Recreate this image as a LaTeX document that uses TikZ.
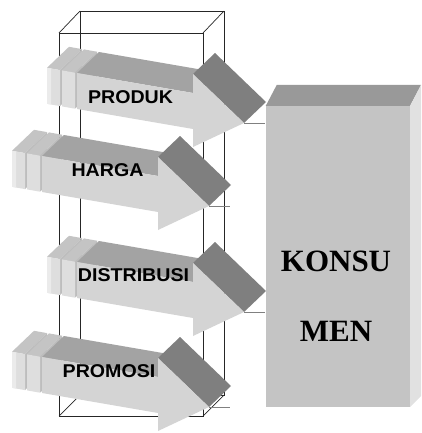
\documentclass[tikz,border=0pt]{standalone}
\usepackage{fontspec}
\usepackage{graphicx}
\newfontfamily\labelfont{Liberation Sans}
\newfontfamily\boxfont{Liberation Serif}
\definecolor{afront}{HTML}{D4D4D4}
\definecolor{atop}{HTML}{A3A3A3}
\definecolor{ahead}{HTML}{7F7F7F}
\definecolor{sfront}{HTML}{DEDEDE}
\definecolor{stop}{HTML}{C4C4C4}
\definecolor{sside}{HTML}{BDBDBD}
\definecolor{kfrontc}{HTML}{C4C4C4}
\definecolor{ktopc}{HTML}{999999}
\definecolor{ksidec}{HTML}{E1E1E1}
\newcommand\widetext[1]{\scalebox{1.06}[1]{#1}}
\newcommand\mkarrow[2]{%
 \begin{scope}[shift={(#1,#2)}]
  % tail slab A
  \fill[stop] (-146,-6.2) -- ++(22,-21) -- (-111,-24.9) -- (-133,-3.9) -- cycle;
  \fill[sside] (-133,-3.9) -- ++(22,-21) -- ++(0,36) -- (-133,32.1) -- cycle;
  \fill[sfront] (-146,-6.2) -- (-133,-3.9) -- (-133,32.1) -- (-146,29.8) -- cycle;
  \fill[white!92!black] (-146,-6.2) -- (-142,-5.5) -- (-142,30.5) -- (-146,29.8) -- cycle;
  % tail slab B
  \fill[stop] (-131,-3.6) -- ++(22,-21) -- (-96,-22.3) -- (-118,-1.3) -- cycle;
  \fill[sside] (-118,-1.3) -- ++(22,-21) -- ++(0,36) -- (-118,34.7) -- cycle;
  \fill[sfront] (-131,-3.6) -- (-118,-1.3) -- (-118,34.7) -- (-131,32.4) -- cycle;
  % shaft top face
  \fill[atop] (-116,-1) -- (-94,-22) -- (22,-2) -- (0,19) -- cycle;
  % head top face
  \fill[ahead] (0,0) -- (22,-21) -- (73,28) -- (51,49) -- cycle;
  % front face
  \fill[afront] (-116,-1) -- (0,19) -- (0,0) -- (51,49) -- (0,73) -- (0,55) -- (-116,35) -- cycle;
  % base line at the tip
  \draw[tipline] (51,49) -- (72,49);
 \end{scope}}
\begin{document}
\begin{tikzpicture}[x=1pt,y=-1pt,
  wire/.style={draw=black!85,line width=0.7pt},
  tipline/.style={draw=black!50,line width=0.7pt},
  lbl/.style={font=\labelfont\bfseries\fontsize{18.5}{18.5}\selectfont,inner sep=0pt,anchor=base},
  ktext/.style={font=\boxfont\bfseries\fontsize{31}{31}\selectfont,inner sep=0pt,anchor=base}]
\useasboundingbox (0,0) rectangle (421,433);
% wireframe column
\draw[wire] (59,33) rectangle (203,416);
\draw[wire] (80,11) rectangle (224,395);
\draw[wire] (59,33) -- (80,11) (203,33) -- (224,11) (59,416) -- (80,395) (203,416) -- (224,395);
% arrows
\mkarrow{193}{74}
\mkarrow{158}{157}
\mkarrow{193}{263}
\mkarrow{158}{358}
\node[lbl] (produk) at (130.5,103) {\widetext{PRODUK}};
\node[lbl] (harga) at (107.5,176) {\widetext{HARGA}};
\node[lbl] (distribusi) at (133.5,281) {\widetext{DISTRIBUSI}};
\node[lbl] (promosi) at (109,377) {\widetext{PROMOSI}};
% konsumen block
\fill[ktopc] (265.7,106) -- (276.7,85) -- (421,85) -- (410,106) -- cycle;
\fill[ksidec] (410,106) -- (421,85) -- (421,396) -- (410,407) -- cycle;
\node[fill=kfrontc,minimum width=144.3pt,minimum height=301pt,inner sep=0pt,anchor=north west] (konsumen) at (265.7,106) {};
\node[ktext] (konsu) at (336,271.7) {KONSU};
\node[ktext] (men) at (336,341.7) {MEN};
\end{tikzpicture}
\end{document}
